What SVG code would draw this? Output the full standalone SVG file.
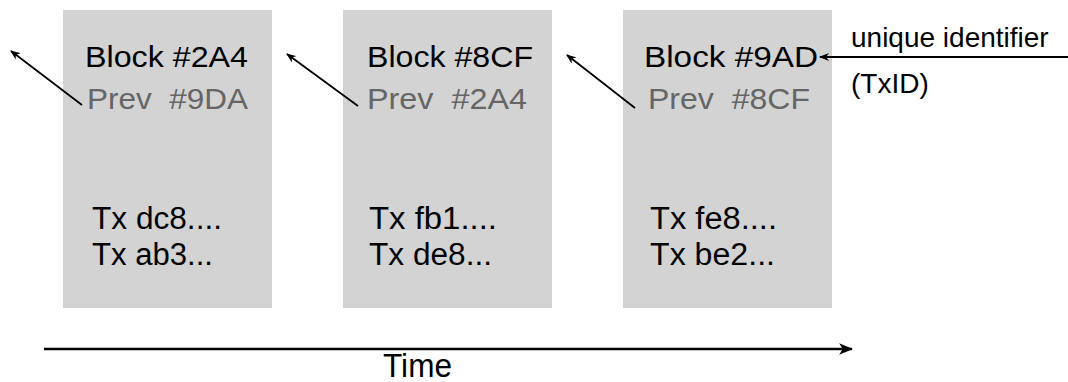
<svg xmlns="http://www.w3.org/2000/svg" width="1068" height="382" viewBox="0 0 1068 382">
<style>
.box{fill:#d3d3d3}
.t{font-family:"Liberation Sans",Arial,sans-serif}
.hd{font-size:29px;fill:#000}
.pv{font-size:29px;fill:#666}
.tx{font-size:31px;fill:#000}
.lb{font-size:28px;fill:#000}
.ln{stroke:#000;fill:none}
</style>
<defs>
<marker id="ah" viewBox="0 0 10 8" refX="9" refY="4" markerWidth="10" markerHeight="8" markerUnits="userSpaceOnUse" orient="auto">
<path d="M0,0 L10,4 L0,8 L3,4 z" fill="#000"/>
</marker>
<marker id="ahb" viewBox="0 0 12 10" refX="11" refY="5" markerWidth="14" markerHeight="12" markerUnits="userSpaceOnUse" orient="auto">
<path d="M0,0 L12,5 L0,10 L3,5 z" fill="#000"/>
</marker>
</defs>
<g id="block1">
<rect class="box" x="63" y="10" width="209" height="298"/>
<text class="t hd" x="85" y="67" textLength="163" lengthAdjust="spacingAndGlyphs">Block #2A4</text>
<text class="t pv" x="87" y="109" textLength="161" lengthAdjust="spacingAndGlyphs" xml:space="preserve">Prev  #9DA</text>
<text class="t tx" x="92" y="229" textLength="130" lengthAdjust="spacingAndGlyphs">Tx dc8....</text>
<text class="t tx" x="92" y="265" textLength="121" lengthAdjust="spacingAndGlyphs">Tx ab3...</text>
</g>
<g id="block2">
<rect class="box" x="343" y="10" width="209" height="298"/>
<text class="t hd" x="367" y="67" textLength="166" lengthAdjust="spacingAndGlyphs">Block #8CF</text>
<text class="t pv" x="367" y="109" textLength="160" lengthAdjust="spacingAndGlyphs" xml:space="preserve">Prev  #2A4</text>
<text class="t tx" x="369" y="229" textLength="128" lengthAdjust="spacingAndGlyphs">Tx fb1....</text>
<text class="t tx" x="369" y="265" textLength="123" lengthAdjust="spacingAndGlyphs">Tx de8...</text>
</g>
<g id="block3">
<rect class="box" x="623" y="10" width="209" height="298"/>
<text class="t hd" x="644" y="67" textLength="174" lengthAdjust="spacingAndGlyphs">Block #9AD</text>
<text class="t pv" x="648" y="109" textLength="162" lengthAdjust="spacingAndGlyphs" xml:space="preserve">Prev  #8CF</text>
<text class="t tx" x="650" y="229" textLength="127" lengthAdjust="spacingAndGlyphs">Tx fe8....</text>
<text class="t tx" x="650" y="265" textLength="125" lengthAdjust="spacingAndGlyphs">Tx be2...</text>
</g>
<g id="labels">
<text class="t lb" x="851" y="47">unique identifier</text>
<text class="t lb" x="851" y="93">(TxID)</text>
<text class="t" x="383" y="377" font-size="33" textLength="69" lengthAdjust="spacingAndGlyphs">Time</text>
</g>
<g id="connectors">
<line class="ln" stroke-width="1.8" x1="82" y1="105" x2="11" y2="51" marker-end="url(#ah)"/>
<line class="ln" stroke-width="1.8" x1="358" y1="106" x2="287" y2="54" marker-end="url(#ah)"/>
<line class="ln" stroke-width="1.8" x1="635" y1="108" x2="567" y2="55" marker-end="url(#ah)"/>
<line class="ln" stroke-width="2" x1="1068" y1="57" x2="820" y2="57" marker-end="url(#ah)"/>
<line class="ln" stroke-width="2.5" x1="44" y1="349" x2="852" y2="349" marker-end="url(#ahb)"/>
</g>
</svg>
